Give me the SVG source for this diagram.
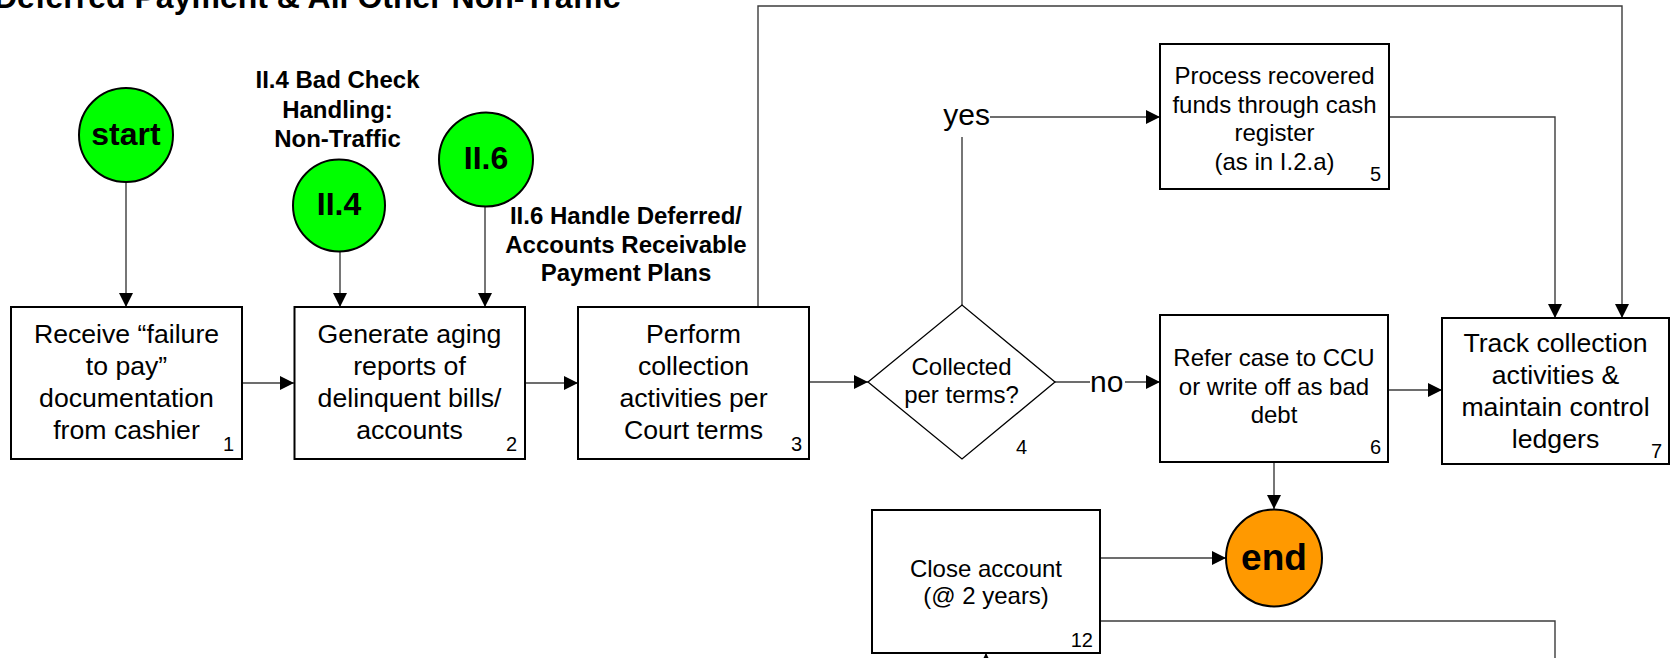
<svg xmlns="http://www.w3.org/2000/svg" width="1673" height="658" viewBox="0 0 1673 658">
  <defs>
    <marker id="arr" viewBox="0 0 14 14" markerWidth="14" markerHeight="14" refX="14" refY="7" orient="auto" markerUnits="userSpaceOnUse">
      <path d="M0,0 L14,7 L0,14 z" fill="#000"/>
    </marker>
    <style>
      text { font-family: "Liberation Sans", Arial, sans-serif; fill: #000; }
      .box { fill: #fff; stroke: #000; stroke-width: 2; }
      .dia { fill: #fff; stroke: #000; stroke-width: 1.3; }
      .go { fill: #00ff00; stroke: #000; stroke-width: 2; }
      .stop { fill: #ff9900; stroke: #000; stroke-width: 2; }
      .t20 { font-size: 26.67px; text-anchor: middle; }
      .t18 { font-size: 24px; text-anchor: middle; }
      .num { font-size: 20px; text-anchor: end; }
      .term { font-size: 32px; font-weight: bold; text-anchor: middle; }
      .lbl { font-size: 24px; font-weight: bold; text-anchor: middle; }
      .yn { font-size: 30px; }
      .conn { fill: none; stroke: #3c3c3c; stroke-width: 1.4; }
      .conn.a { marker-end: url(#arr); }
    </style>
  </defs>
  <rect width="1673" height="658" fill="#fff"/>

  <!-- page heading, partly above the top edge -->
  <text x="-6" y="8" style="font-size:32px;font-weight:bold">Deferred Payment &amp; All Other Non-Traffic</text>

  <!-- connectors -->
  <g id="connectors">
    <path class="conn a" d="M126,182 V307"/>
    <path class="conn a" d="M340,252 V307"/>
    <path class="conn a" d="M485,206 V307"/>
    <path class="conn a" d="M242,383 H294"/>
    <path class="conn a" d="M525,383 H578"/>
    <path class="conn a" d="M809,382 H868"/>
    <path class="conn" d="M1055,382 H1090"/>
    <path class="conn a" d="M1125,382 H1160"/>
    <path class="conn" d="M962,305 V137"/>
    <path class="conn a" d="M990,117 H1160"/>
    <path class="conn a" d="M758,307 V6 H1622 V318"/>
    <path class="conn a" d="M1389,117 H1555 V318"/>
    <path class="conn a" d="M1388,390 H1442"/>
    <path class="conn a" d="M1274,462 V509"/>
    <path class="conn a" d="M1100,558 H1226"/>
    <path class="conn" d="M1100,621 H1555 V700"/>
    <path class="conn a" d="M986,720 V653"/>
    <text class="yn" x="990" y="125" text-anchor="end">yes</text>
    <text class="yn" x="1090" y="392">no</text>
  </g>

  <!-- terminals -->
  <g id="start">
    <ellipse class="go" cx="126" cy="135" rx="47" ry="47"/>
    <text class="term" x="126" y="145">start</text>
  </g>
  <g id="ref-II4">
    <ellipse class="go" cx="339" cy="205.5" rx="46" ry="46"/>
    <text class="term" x="339" y="215">II.4</text>
    <text class="lbl" x="337.5" y="88">II.4 Bad Check</text>
    <text class="lbl" x="337.5" y="117.5">Handling:</text>
    <text class="lbl" x="337.5" y="147">Non-Traffic</text>
  </g>
  <g id="ref-II6">
    <ellipse class="go" cx="486" cy="159.5" rx="47" ry="47"/>
    <text class="term" x="486" y="169">II.6</text>
    <text class="lbl" x="626" y="224">II.6 Handle Deferred/</text>
    <text class="lbl" x="626" y="252.5">Accounts Receivable</text>
    <text class="lbl" x="626" y="281">Payment Plans</text>
  </g>
  <g id="end">
    <ellipse class="stop" cx="1274" cy="558" rx="48" ry="48.5"/>
    <text class="term" x="1274" y="570" style="font-size:37px">end</text>
  </g>

  <!-- process steps -->
  <g id="step1">
    <rect class="box" x="11" y="307" width="231" height="152"/>
    <text class="t20" x="126.5" y="343">Receive “failure</text>
    <text class="t20" x="126.5" y="375">to pay”</text>
    <text class="t20" x="126.5" y="407">documentation</text>
    <text class="t20" x="126.5" y="439">from cashier</text>
    <text class="num" x="234" y="451">1</text>
  </g>
  <g id="step2">
    <rect class="box" x="294.5" y="307" width="230.5" height="152"/>
    <text class="t20" x="409.5" y="343">Generate aging</text>
    <text class="t20" x="409.5" y="375">reports of</text>
    <text class="t20" x="409.5" y="407">delinquent bills/</text>
    <text class="t20" x="409.5" y="439">accounts</text>
    <text class="num" x="517" y="451">2</text>
  </g>
  <g id="step3">
    <rect class="box" x="578" y="307" width="231" height="152"/>
    <text class="t20" x="693.5" y="343">Perform</text>
    <text class="t20" x="693.5" y="375">collection</text>
    <text class="t20" x="693.5" y="407">activities per</text>
    <text class="t20" x="693.5" y="439">Court terms</text>
    <text class="num" x="802" y="451">3</text>
  </g>
  <g id="step4">
    <path class="dia" d="M868,382 L962,305 L1055,382 L962,459 Z"/>
    <text class="t18" x="961.5" y="375">Collected</text>
    <text class="t18" x="961.5" y="403">per terms?</text>
    <text class="num" x="1027" y="454">4</text>
  </g>
  <g id="step5">
    <rect class="box" x="1160" y="44" width="229" height="145"/>
    <text class="t18" x="1274.5" y="84">Process recovered</text>
    <text class="t18" x="1274.5" y="112.5">funds through cash</text>
    <text class="t18" x="1274.5" y="141">register</text>
    <text class="t18" x="1274.5" y="169.5">(as in I.2.a)</text>
    <text class="num" x="1381" y="181">5</text>
  </g>
  <g id="step6">
    <rect class="box" x="1160" y="315" width="228" height="147"/>
    <text class="t18" x="1274" y="366">Refer case to CCU</text>
    <text class="t18" x="1274" y="394.5">or write off as bad</text>
    <text class="t18" x="1274" y="423">debt</text>
    <text class="num" x="1381" y="454">6</text>
  </g>
  <g id="step7">
    <rect class="box" x="1442" y="318" width="227" height="146"/>
    <text class="t20" x="1555.5" y="352">Track collection</text>
    <text class="t20" x="1555.5" y="384">activities &amp;</text>
    <text class="t20" x="1555.5" y="416">maintain control</text>
    <text class="t20" x="1555.5" y="448">ledgers</text>
    <text class="num" x="1662" y="458">7</text>
  </g>
  <g id="step12">
    <rect class="box" x="872" y="510" width="228" height="143"/>
    <text class="t18" x="986" y="577">Close account</text>
    <text class="t18" x="986" y="604">(@ 2 years)</text>
    <text class="num" x="1093" y="647">12</text>
  </g>
</svg>
